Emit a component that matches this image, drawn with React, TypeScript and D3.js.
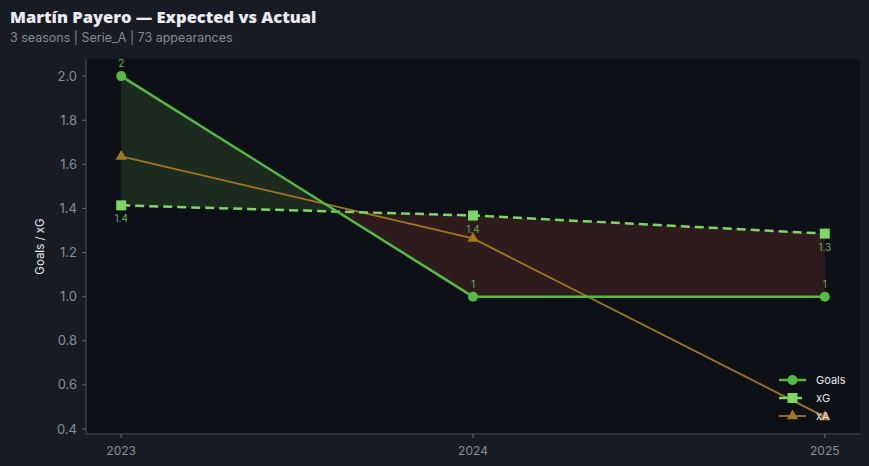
import React from "react";
import * as d3 from "d3";

const seasons = [2023, 2024, 2025];
const goals = [2, 1, 1];
const xG = [1.414, 1.368, 1.286];
const xA = [1.636, 1.264, 0.455];
const goalLabels = ["2", "1", "1"];
const xGLabels = ["1.4", "1.4", "1.3"];
const yTicks = [0.4, 0.6, 0.8, 1.0, 1.2, 1.4, 1.6, 1.8, 2.0];

const W = 869, H = 466;
const M = { left: 86, right: 860, top: 59, bottom: 434 };
const C_GOALS = "#55bb44";
const C_XG = "#7dd765";
const C_XA = "#a5761c";

export default function App() {
  const x = d3.scaleLinear().domain([2022.9, 2025.1]).range([M.left, M.right]);
  const y = d3.scaleLinear().domain([0.3775, 2.0775]).range([M.bottom, M.top]);

  const greenPolys: [number, number, number][][] = [];
  const redPolys: [number, number, number][][] = [];
  for (let i = 0; i < seasons.length - 1; i++) {
    const d0 = goals[i] - xG[i];
    const d1 = goals[i + 1] - xG[i + 1];
    const p0: [number, number, number] = [seasons[i], goals[i], xG[i]];
    const p1: [number, number, number] = [seasons[i + 1], goals[i + 1], xG[i + 1]];
    if (d0 * d1 < 0) {
      const t = d0 / (d0 - d1);
      const xs = seasons[i] + t * (seasons[i + 1] - seasons[i]);
      const ys = goals[i] + t * (goals[i + 1] - goals[i]);
      const pc: [number, number, number] = [xs, ys, ys];
      (d0 > 0 ? greenPolys : redPolys).push([p0, pc]);
      (d1 > 0 ? greenPolys : redPolys).push([pc, p1]);
    } else {
      (d0 + d1 >= 0 ? greenPolys : redPolys).push([p0, p1]);
    }
  }
  const area = d3
    .area<[number, number, number]>()
    .x((d) => x(d[0]))
    .y0((d) => y(d[2]))
    .y1((d) => y(d[1]));

  const lineGen = d3
    .line<number>()
    .x((_, i) => x(seasons[i]))
    .y((d) => y(d));

  const tri = d3.symbol().type(d3.symbolTriangle).size(55)();

  return (
    <svg width={W} height={H} style={{ position: "absolute", left: 0, top: 0, background: "#181b23" }}>
      <rect x={0} y={0} width={W} height={H} fill="#181b23" />
      <text x={10} y={23} fill="#ebebf2" fontFamily="'Open Sans', sans-serif" fontWeight={800} fontSize={16.5}>
        Martín Payero — Expected vs Actual
      </text>
      <text x={10} y={42} fill="#868a95" fontFamily="Inter, sans-serif" fontSize={12.5}>
        3 seasons | Serie_A | 73 appearances
      </text>
      <rect x={M.left} y={M.top} width={M.right - M.left} height={M.bottom - M.top} fill="#0d1017" />

      {greenPolys.map((p, i) => (
        <path key={"g" + i} d={area(p) || ""} fill="#1b2b1f" />
      ))}
      {redPolys.map((p, i) => (
        <path key={"r" + i} d={area(p) || ""} fill="#2d1b1e" />
      ))}

      <line x1={M.left} x2={M.left} y1={M.top} y2={M.bottom} stroke="#4a4e58" strokeWidth={1} />
      <line x1={M.left} x2={M.right} y1={M.bottom} y2={M.bottom} stroke="#4a4e58" strokeWidth={1} />
      {yTicks.map((t) => (
        <g key={t}>
          <line x1={M.left - 4} x2={M.left} y1={y(t)} y2={y(t)} stroke="#6a6e78" />
          <text x={M.left - 9} y={y(t)} dy="0.35em" textAnchor="end" fill="#8a8e98" fontFamily="Inter, sans-serif" fontSize={13}>
            {t.toFixed(1)}
          </text>
        </g>
      ))}
      {seasons.map((s) => (
        <g key={s}>
          <line x1={x(s)} x2={x(s)} y1={M.bottom} y2={M.bottom + 4} stroke="#6a6e78" />
          <text x={x(s)} y={M.bottom + 21} textAnchor="middle" fill="#8a8e98" fontFamily="Inter, sans-serif" fontSize={12}>
            {s}
          </text>
        </g>
      ))}
      <text
        transform={`translate(44,${(M.top + M.bottom) / 2}) rotate(-90)`}
        textAnchor="middle"
        fill="#e6e6ee"
        fontFamily="Inter, sans-serif"
        fontSize={11.5}
      >
        Goals / xG
      </text>

      <path d={lineGen(xA) || ""} fill="none" stroke={C_XA} strokeWidth={1.8} />
      {xA.map((v, i) => (
        <path key={"a" + i} d={tri || ""} transform={`translate(${x(seasons[i])},${y(v)})`} fill={C_XA} />
      ))}
      <path d={lineGen(xG) || ""} fill="none" stroke={C_XG} strokeWidth={2.5} strokeDasharray="9,5" />
      {xG.map((v, i) => (
        <rect key={"x" + i} x={x(seasons[i]) - 5} y={y(v) - 5} width={10} height={10} fill={C_XG} />
      ))}
      <path d={lineGen(goals) || ""} fill="none" stroke={C_GOALS} strokeWidth={2.5} />
      {goals.map((v, i) => (
        <circle key={"c" + i} cx={x(seasons[i])} cy={y(v)} r={5} fill={C_GOALS} />
      ))}

      {goals.map((v, i) => (
        <text key={"gl" + i} x={x(seasons[i])} y={y(v) - 9} textAnchor="middle" fill={C_GOALS} fontFamily="Inter, sans-serif" fontSize={10}>
          {goalLabels[i]}
        </text>
      ))}
      {xG.map((v, i) => (
        <text key={"xl" + i} x={x(seasons[i])} y={y(v) + 17} textAnchor="middle" fill="#62b052" fontFamily="Inter, sans-serif" fontSize={10}>
          {xGLabels[i]}
        </text>
      ))}

      <g fontFamily="Inter, sans-serif" fontSize={11} fill="#e6e6ee">
        <line x1={779} x2={806} y1={380} y2={380} stroke={C_GOALS} strokeWidth={2.5} />
        <circle cx={792.5} cy={380} r={5} fill={C_GOALS} />
        <text x={816} y={380} dy="0.35em">Goals</text>
        <line x1={779} x2={806} y1={398} y2={398} stroke={C_XG} strokeWidth={2.5} strokeDasharray="9,5" />
        <rect x={787.5} y={393} width={10} height={10} fill={C_XG} />
        <text x={816} y={398} dy="0.35em">xG</text>
        <line x1={779} x2={806} y1={416} y2={416} stroke={C_XA} strokeWidth={1.8} />
        <path d={tri || ""} transform="translate(792.5,416)" fill={C_XA} />
        <text x={816} y={416} dy="0.35em">xA</text>
      </g>
    </svg>
  );
}
